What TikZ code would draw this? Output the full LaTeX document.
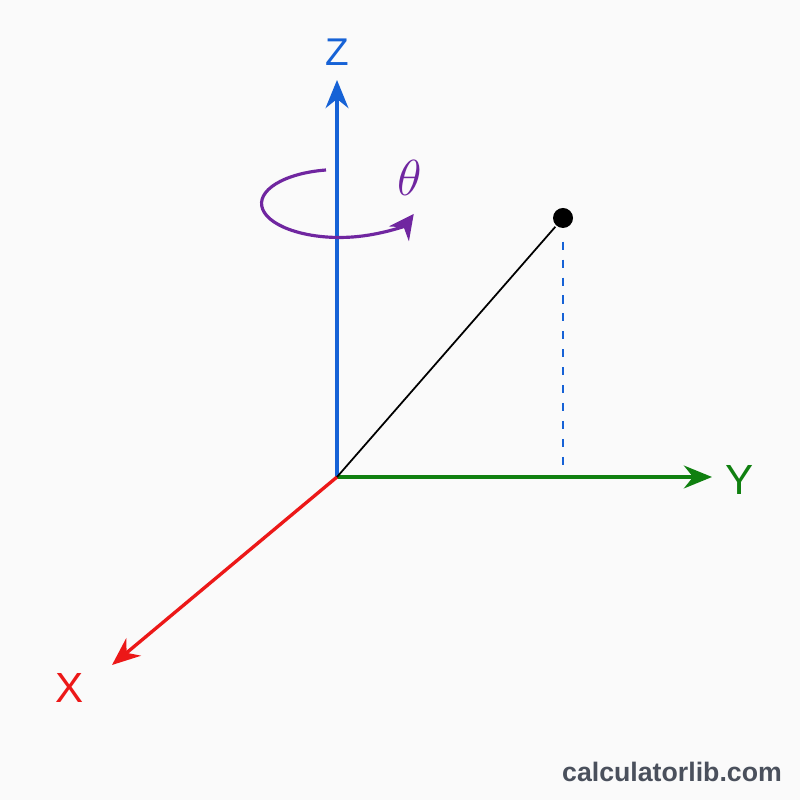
\documentclass[tikz,border=0pt]{standalone}
\usepackage{fontspec}
\setsansfont{Liberation Sans}
\usetikzlibrary{arrows.meta,positioning}

\definecolor{zblue}{RGB}{22,98,214}
\definecolor{ygreen}{RGB}{16,128,16}
\definecolor{xred}{RGB}{236,24,24}
\definecolor{thetapurple}{RGB}{112,38,160}
\definecolor{markgray}{RGB}{74,80,92}
\definecolor{paper}{RGB}{250,250,250}

\begin{document}
\begin{tikzpicture}[
            > = {Stealth[length=8pt,width=6.5pt]}, % arrow head style
            line width = 0.95pt, % axis line style
            font = \sffamily
        ]

        \tikzstyle{axis label}=[
            inner sep = 0pt,
            font = \sffamily\fontsize{12}{14}\selectfont
        ]
        \tikzstyle{dot}=[
            circle,
            fill = black,
            inner sep = 0pt,
            minimum size = 2mm
        ]

        \fill[paper] (0,0) rectangle (8,8);
        \useasboundingbox (0,0) rectangle (8,8);

        \coordinate (o) at (3.37,3.23);
        \coordinate (ztip) at (3.37,7.20);
        \coordinate (ytip) at (7.12,3.23);
        \coordinate (xtip) at (1.12,1.35);

        \node[axis label, zblue, font=\sffamily\fontsize{11}{13}\selectfont] (zlab) at (3.37,7.48) {Z};
        \node[axis label, ygreen] (ylab) at (7.40,3.20) {Y};
        \node[axis label, xred] (xlab) at (0.70,1.12) {X};

        \draw[->, zblue] (o) -- (ztip);
        \draw[->, ygreen] (o) -- (ytip);
        \draw[->, xred] (o) -- (xtip);

        % point and its drop line
        \node[dot] (p) at (5.63,5.82) {};
        \coordinate (pfoot) at (5.63,3.33);
        \draw[zblue, line width=0.45pt, dash pattern=on 2.3pt off 2.8pt, shorten <= 1.2mm] (p) -- (pfoot);
        \draw[black, line width=0.5pt] (o) -- (p);

        % rotation about z
        \coordinate (rotstart) at (3.26,6.30);
        \draw[thetapurple, line width=0.9pt, -{Stealth[length=7pt,width=7pt]}]
            (rotstart) arc[start angle=100, end angle=342, x radius=0.78cm, y radius=0.34cm];
        \node[thetapurple, font=\fontsize{14}{16}\selectfont] (theta) at (4.10,6.22) {$\theta$};

        \node[markgray, font=\sffamily\bfseries\fontsize{7.6}{9}\selectfont] (mark) at (6.72,0.28) {calculatorlib.com};

    \end{tikzpicture}
\end{document}
